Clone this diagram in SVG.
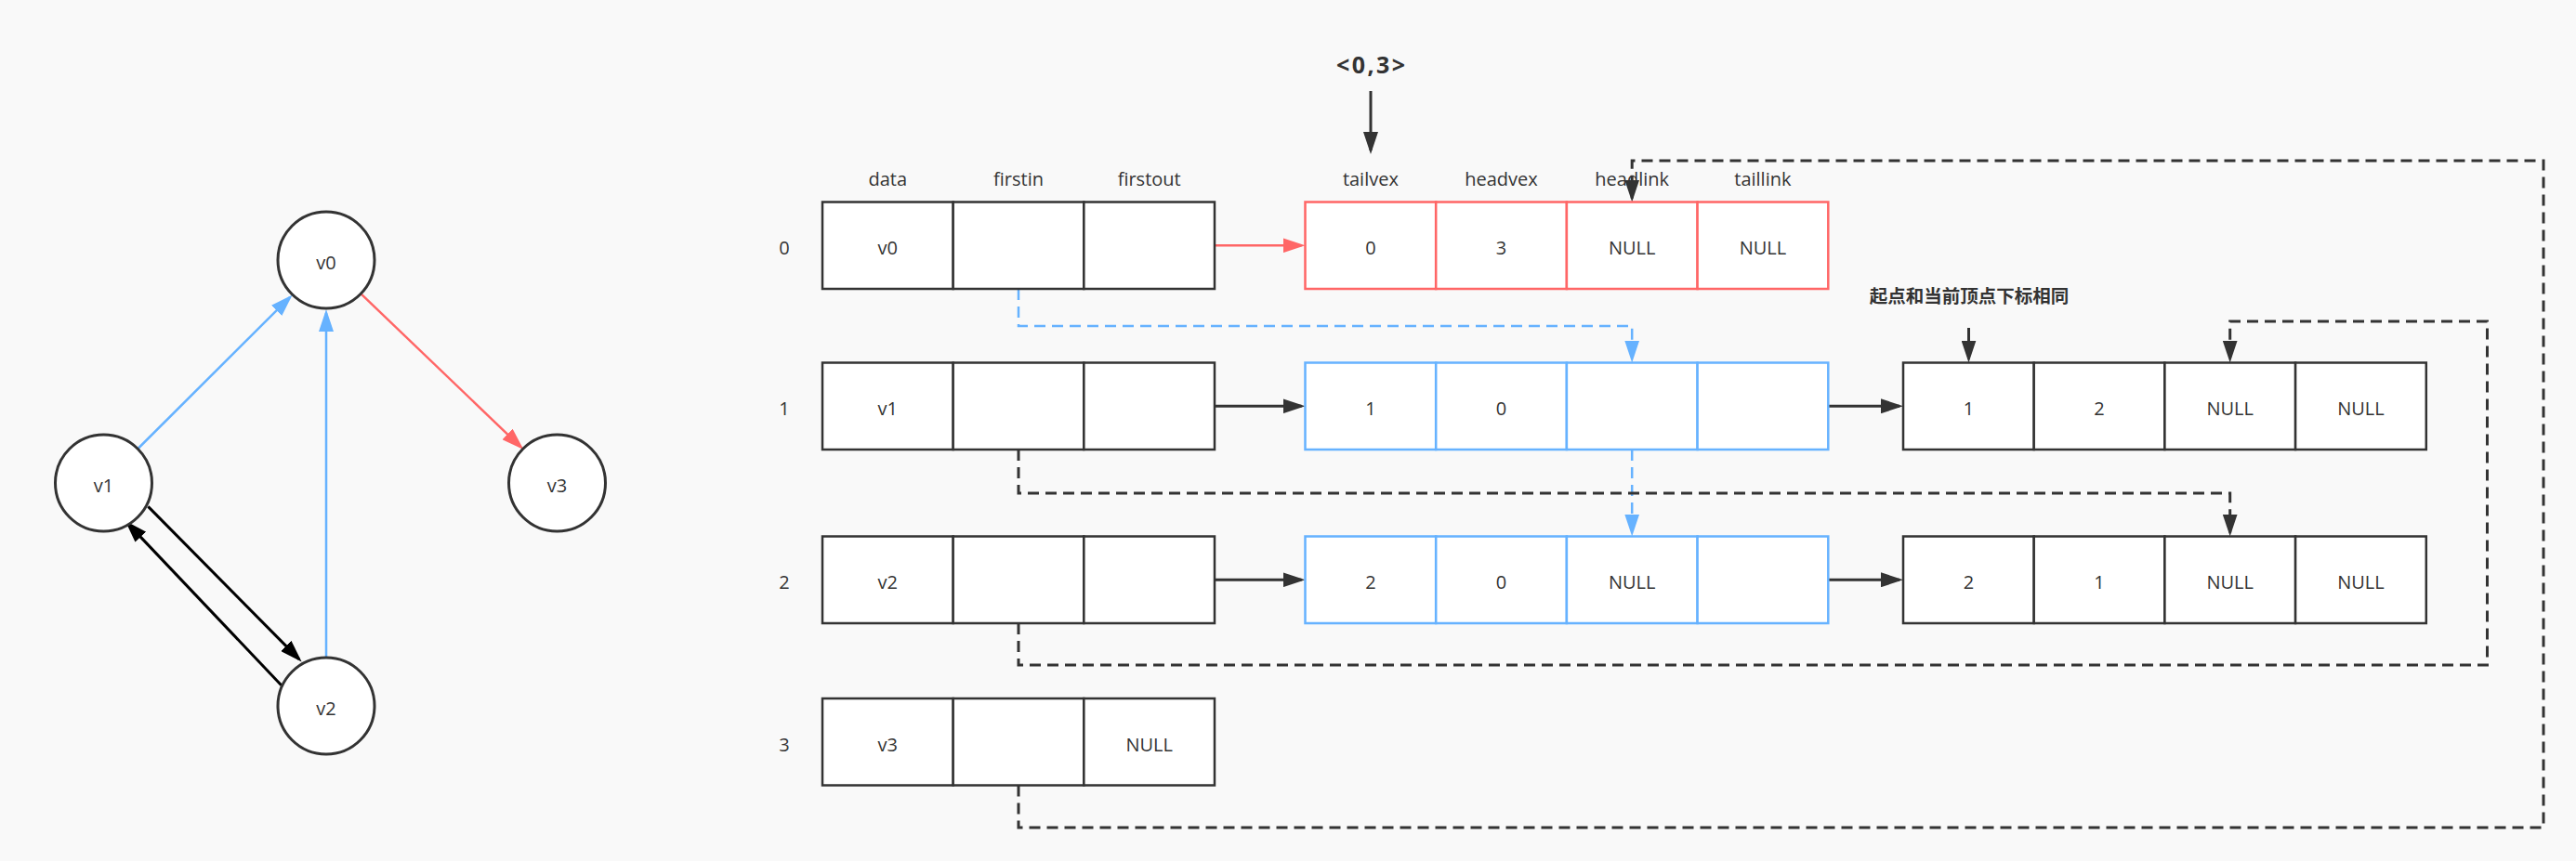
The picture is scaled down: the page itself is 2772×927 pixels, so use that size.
<svg xmlns="http://www.w3.org/2000/svg" width="2772" height="927" viewBox="0 0 2772 927">
<style>
text{font-family:"Open Sans","Noto Sans CJK SC",sans-serif;fill:#333333;font-size:20px;text-anchor:middle}
text.big{font-size:25px;font-weight:bold}
text.note{font-family:"Noto Sans CJK SC",sans-serif;font-size:19.5px;font-weight:bold}
.c{fill:#ffffff;stroke:#333333;stroke-width:2.5}
.r{fill:#ffffff;stroke:#FF6666;stroke-width:2.5}
.b{fill:#ffffff;stroke:#66B2FF;stroke-width:2.5}
.node{fill:#ffffff;stroke:#333333;stroke-width:3}
.ln{fill:none;stroke:#333333;stroke-width:2.5}
.lr{fill:none;stroke:#FF6666;stroke-width:2.5}
.lb{fill:none;stroke:#66B2FF;stroke-width:2.5}
.dk{fill:none;stroke:#333333;stroke-width:3}
.d{fill:none;stroke:#333333;stroke-width:3;stroke-dasharray:12 7}
.db{fill:none;stroke:#66B2FF;stroke-width:2.5;stroke-dasharray:12 7}
</style>
<defs>
<marker id="ak" markerUnits="userSpaceOnUse" markerWidth="24" markerHeight="16" refX="20" refY="8" orient="auto"><path d="M0,0 L24,8 L0,16 z" fill="#333333"/></marker>
<marker id="ar" markerUnits="userSpaceOnUse" markerWidth="24" markerHeight="16" refX="20" refY="8" orient="auto"><path d="M0,0 L24,8 L0,16 z" fill="#FF6666"/></marker>
<marker id="ab" markerUnits="userSpaceOnUse" markerWidth="24" markerHeight="16" refX="20" refY="8" orient="auto"><path d="M0,0 L24,8 L0,16 z" fill="#66B2FF"/></marker>
<marker id="ax" markerUnits="userSpaceOnUse" markerWidth="24" markerHeight="16" refX="20" refY="8" orient="auto"><path d="M0,0 L24,8 L0,16 z" fill="#000000"/></marker>
</defs>
<rect x="0" y="0" width="2772" height="927" fill="#F9F9F9"/>

<g id="connectors">
<!-- left graph -->
<line class="lb" x1="149" y1="482.5" x2="311.8" y2="320.2" marker-end="url(#ab)"/>
<line class="lb" x1="351" y1="707" x2="351" y2="337" marker-end="url(#ab)"/>
<line class="lr" x1="389" y1="316.8" x2="560.5" y2="481.3" marker-end="url(#ar)"/>
<line x1="159.4" y1="545.4" x2="321.8" y2="709.6" stroke="#000000" stroke-width="3" marker-end="url(#ax)"/>
<line x1="302.7" y1="737.7" x2="137.5" y2="563.6" stroke="#000000" stroke-width="3" marker-end="url(#ax)"/>
<!-- table arrows -->
<path class="lr" d="M1307,264.25 H1400.5" marker-end="url(#ar)"/>
<path class="dk" d="M1307,437.25 H1400.5" marker-end="url(#ak)"/>
<path class="dk" d="M1967.3,437.25 H2044" marker-end="url(#ak)"/>
<path class="dk" d="M1307,624.25 H1400.5" marker-end="url(#ak)"/>
<path class="dk" d="M1967.3,624.25 H2044" marker-end="url(#ak)"/>
<path class="dk" d="M1475,98 V162" marker-end="url(#ak)"/>
<path class="dk" d="M2118.5,353 V386.5" marker-end="url(#ak)"/>
<!-- dashed links -->
<path class="db" d="M1096,311 V351 H1756.2 V386.5" marker-end="url(#ab)"/>
<path class="db" d="M1756.2,484 V573.5" marker-end="url(#ab)"/>
<path class="d" d="M1096,484 V531 H2399.7 V573.5" marker-end="url(#ak)"/>
<path class="d" d="M1096,671 V716 H2676.5 V346 H2399.7 V386.5" marker-end="url(#ak)"/>
<path class="d" d="M1096,845.5 V891 H2737 V173 H1756.2 V213.5" marker-end="url(#ak)"/>
</g>

<g id="graph-v0"><circle class="node" cx="351" cy="280" r="52"/><text x="351" y="290">v0</text></g>
<g id="graph-v1"><circle class="node" cx="111.5" cy="520" r="52"/><text x="111.5" y="530">v1</text></g>
<g id="graph-v2"><circle class="node" cx="351" cy="760" r="52"/><text x="351" y="770">v2</text></g>
<g id="graph-v3"><circle class="node" cx="599.5" cy="520" r="52"/><text x="599.5" y="530">v3</text></g>

<g id="headers">
<text x="955.3" y="200">data</text>
<text x="1096" y="200">firstin</text>
<text x="1236.7" y="200">firstout</text>
<text x="1474.9" y="200">tailvex</text>
<text x="1615.5" y="200">headvex</text>
<text x="1756.2" y="200">headlink</text>
<text x="1896.9" y="200">taillink</text>
</g>

<g id="label-03"><text class="big" x="1475" y="79" textLength="74" lengthAdjust="spacing">&lt;0,3&gt;</text></g>
<g id="label-note"><text class="note" x="2119" y="317" dominant-baseline="central">起点和当前顶点下标相同</text></g>

<g id="row-labels">
<text x="844" y="274">0</text>
<text x="844" y="447">1</text>
<text x="844" y="634">2</text>
<text x="844" y="809">3</text>
</g>

<g id="vertex-0">
<rect class="c" x="885" y="217.5" width="140.67" height="93.5"/><rect class="c" x="1025.67" y="217.5" width="140.67" height="93.5"/><rect class="c" x="1166.33" y="217.5" width="140.67" height="93.5"/>
<text x="955.3" y="274">v0</text>
</g>
<g id="vertex-1">
<rect class="c" x="885" y="390.5" width="140.67" height="93.5"/><rect class="c" x="1025.67" y="390.5" width="140.67" height="93.5"/><rect class="c" x="1166.33" y="390.5" width="140.67" height="93.5"/>
<text x="955.3" y="447">v1</text>
</g>
<g id="vertex-2">
<rect class="c" x="885" y="577.5" width="140.67" height="93.5"/><rect class="c" x="1025.67" y="577.5" width="140.67" height="93.5"/><rect class="c" x="1166.33" y="577.5" width="140.67" height="93.5"/>
<text x="955.3" y="634">v2</text>
</g>
<g id="vertex-3">
<rect class="c" x="885" y="752" width="140.67" height="93.5"/><rect class="c" x="1025.67" y="752" width="140.67" height="93.5"/><rect class="c" x="1166.33" y="752" width="140.67" height="93.5"/>
<text x="955.3" y="809">v3</text><text x="1236.7" y="809">NULL</text>
</g>

<g id="edge-0-3">
<rect class="r" x="1404.5" y="217.5" width="140.7" height="93.5"/><rect class="r" x="1545.2" y="217.5" width="140.7" height="93.5"/><rect class="r" x="1685.9" y="217.5" width="140.7" height="93.5"/><rect class="r" x="1826.6" y="217.5" width="140.7" height="93.5"/>
<text x="1474.9" y="274">0</text><text x="1615.5" y="274">3</text><text x="1756.2" y="274">NULL</text><text x="1896.9" y="274">NULL</text>
</g>
<g id="edge-1-0">
<rect class="b" x="1404.5" y="390.5" width="140.7" height="93.5"/><rect class="b" x="1545.2" y="390.5" width="140.7" height="93.5"/><rect class="b" x="1685.9" y="390.5" width="140.7" height="93.5"/><rect class="b" x="1826.6" y="390.5" width="140.7" height="93.5"/>
<text x="1474.9" y="447">1</text><text x="1615.5" y="447">0</text>
</g>
<g id="edge-2-0">
<rect class="b" x="1404.5" y="577.5" width="140.7" height="93.5"/><rect class="b" x="1545.2" y="577.5" width="140.7" height="93.5"/><rect class="b" x="1685.9" y="577.5" width="140.7" height="93.5"/><rect class="b" x="1826.6" y="577.5" width="140.7" height="93.5"/>
<text x="1474.9" y="634">2</text><text x="1615.5" y="634">0</text><text x="1756.2" y="634">NULL</text>
</g>
<g id="edge-1-2">
<rect class="c" x="2048" y="390.5" width="140.7" height="93.5"/><rect class="c" x="2188.7" y="390.5" width="140.7" height="93.5"/><rect class="c" x="2329.4" y="390.5" width="140.7" height="93.5"/><rect class="c" x="2470.1" y="390.5" width="140.7" height="93.5"/>
<text x="2118.4" y="447">1</text><text x="2259" y="447">2</text><text x="2399.7" y="447">NULL</text><text x="2540.4" y="447">NULL</text>
</g>
<g id="edge-2-1">
<rect class="c" x="2048" y="577.5" width="140.7" height="93.5"/><rect class="c" x="2188.7" y="577.5" width="140.7" height="93.5"/><rect class="c" x="2329.4" y="577.5" width="140.7" height="93.5"/><rect class="c" x="2470.1" y="577.5" width="140.7" height="93.5"/>
<text x="2118.4" y="634">2</text><text x="2259" y="634">1</text><text x="2399.7" y="634">NULL</text><text x="2540.4" y="634">NULL</text>
</g>
</svg>
